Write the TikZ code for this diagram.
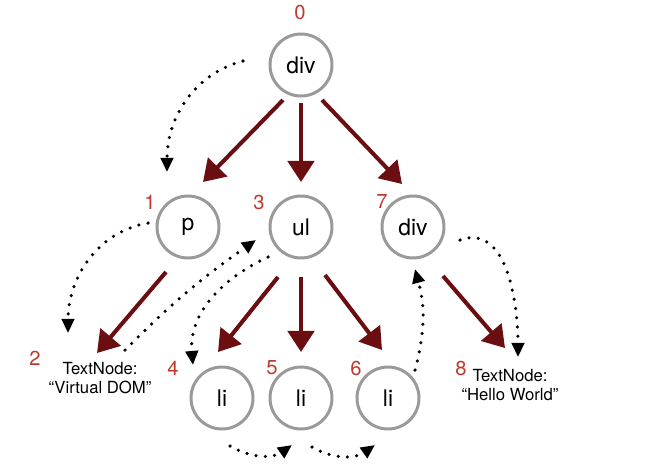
\documentclass[tikz,border=0pt]{standalone}
\usepackage{fontspec}
\setmainfont{TeX Gyre Heros}
\usetikzlibrary{arrows.meta}
\definecolor{edge}{HTML}{6A0E12}
\definecolor{ring}{HTML}{9A9A9A}
\definecolor{index}{HTML}{C0392B}
\begin{document}
\begin{tikzpicture}[x=0.02cm, y=-0.02cm,
  vnode/.style={circle, draw=ring, line width=1.7pt, minimum size=1.24cm,
    inner sep=0pt, font=\fontsize{13}{15}\selectfont},
  tnode/.style={align=center, inner sep=0pt, font=\fontsize{9.5}{11}\selectfont},
  num/.style={text=index, font=\fontsize{11.5}{13}\selectfont},
  child/.style={draw=edge, line width=2.3pt, -{Triangle[length=12pt,width=15pt]}},
  walk/.style={line width=2pt, line cap=round, dash pattern=on 0pt off 5.3pt,
    -{Triangle[length=8pt,width=7pt]}}]
  \useasboundingbox (0,0) rectangle (646,474);
  % virtual DOM tree
  \node[vnode] (n0) at (301,65) {div};
  \node[vnode] (n1) at (188,227) {p};
  \node[vnode] (n3) at (301,227) {ul};
  \node[vnode] (n7) at (413,227) {div};
  \node[vnode] (n4) at (222,398) {li};
  \node[vnode] (n5) at (301,398) {li};
  \node[vnode] (n6) at (388,398) {li};
  \node[tnode] (n2) at (100,378) {TextNode:\\``Virtual DOM''};
  \node[tnode] (n8) at (510,385) {TextNode:\\``Hello World''};
  % walk order
  \foreach \n/\dx/\dy in {0/-1/-53, 1/-38/-25, 2/-65/-20, 3/-42/-25, 4/-49/-30,
                          5/-29/-30, 6/-32/-30, 7/-31/-26, 8/-49/-17}
    \node[num] (l\n) at ([shift={(\dx,\dy)}]n\n.center) {\n};
  % parent -> child
  \foreach \a/\b/\sx/\sy/\tx/\ty in {0/1/-18/35/15/-45, 0/3/0/38/0/-45,
      0/7/21/35/-11/-43, 1/2/-22/45/-3/-25, 3/4/-23/50/-4/-46,
      3/5/0/50/0/-46, 3/6/24/48/-6/-48, 7/8/30/49/-5/-37}
    \draw[child] ([shift={(\sx,\sy)}]n\a.center) -- ([shift={(\tx,\ty)}]n\b.center);
  % depth-first traversal
  \draw[walk] ([shift={(-58,-4)}]n0.center) to[out=195,in=90] ([shift={(-21,-55)}]n1.center);
  \draw[walk] ([shift={(-40,-4)}]n1.center) to[out=190,in=90] ([shift={(-32,-45)}]n2.center);
  \draw[walk] ([shift={(25,-28)}]n2.center) to[bend left=5] ([shift={(-45,13)}]n3.center);
  \draw[walk] ([shift={(-33,30)}]n3.center) to[out=205,in=95] ([shift={(-29,-33)}]n4.center);
  \draw[walk] ([shift={(8,48)}]n4.center) to[out=-30,in=215] ([shift={(-9,47)}]n5.center);
  \draw[walk] ([shift={(11,49)}]n5.center) to[out=-30,in=215] ([shift={(-13,47)}]n6.center);
  \draw[walk] ([shift={(27,-28)}]n6.center) to[out=75,in=-75] ([shift={(2,42)}]n7.center);
  \draw[walk] ([shift={(47,13)}]n7.center) to[out=20,in=90] ([shift={(8,-28)}]n8.center);
\end{tikzpicture}
\end{document}
